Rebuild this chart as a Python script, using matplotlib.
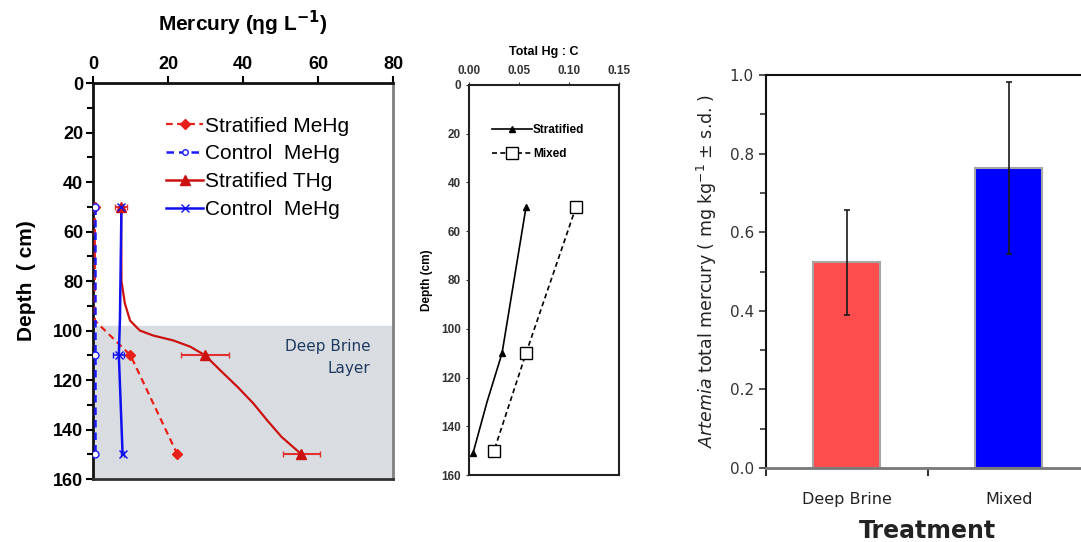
import matplotlib
matplotlib.use("Agg")
import matplotlib.pyplot as plt
from matplotlib.ticker import MultipleLocator

# ---------------- Data ----------------
# Panel A: Mercury (ng/L) vs depth (cm)
strat_mehg_depth = [50, 96, 110, 150]
strat_mehg_val = [0.5, 0.5, 10.0, 22.5]

ctrl_mehg_depth = [50, 110, 150]
ctrl_mehg_val = [0.6, 0.6, 0.6]

# smoothed stratified THg profile
strat_thg_depth = [50, 80, 89, 96, 100, 102, 104, 106.5, 110, 116, 123, 129.5, 136, 143, 150]
strat_thg_val = [7.5, 7.6, 8.5, 9.9, 12.5, 16.0, 21.4, 25.9, 29.9, 33.9, 38.7, 42.8, 46.3, 50.3, 55.6]
strat_thg_pts_depth = [50, 110, 150]
strat_thg_pts_val = [7.5, 29.9, 55.6]
strat_thg_err = [1.5, 6.3, 5.0]

ctrl_thg_depth = [50, 95, 110, 150]
ctrl_thg_val = [7.6, 7.2, 6.9, 7.9]
ctrl_thg_pts_depth = [50, 110, 150]
ctrl_thg_pts_val = [7.6, 6.9, 7.9]
ctrl_thg_err = [0.5, 1.5, 0.5]

brine_top = 98

# Panel B: Total Hg : C ratio vs depth
strat_ratio_depth = [50, 110, 130, 151]
strat_ratio_val = [0.057, 0.033, 0.018, 0.004]
mixed_ratio_depth = [50, 110, 150]
mixed_ratio_val = [0.107, 0.057, 0.025]

# Panel C: Artemia total mercury
treatments = ["Deep Brine", "Mixed"]
artemia_hg = [0.523, 0.763]
artemia_sd = [0.133, 0.218]

# ---------------- Figure ----------------
fig = plt.figure(figsize=(10.81, 5.42), dpi=100)

# ===== Panel A =====
arial = ["Liberation Sans", "DejaVu Sans"]
ax1 = fig.add_axes([0.0860, 0.1162, 0.2775, 0.7306])
ax1.axhspan(brine_top, 160, color="#d9dde2", zorder=0)

ax1.plot(strat_mehg_val, strat_mehg_depth, color="#e8201a", ls=(0, (3, 2)), lw=1.6,
         marker="D", ms=5, markevery=[0, 2, 3], zorder=3)
ax1.plot(ctrl_mehg_val, ctrl_mehg_depth, color="#1a1aff", ls=(0, (3, 2)), lw=1.8,
         marker="o", ms=5, mfc="white", mec="#1a1aff", zorder=4)
ax1.plot(strat_thg_val, strat_thg_depth, color="#cc1111", lw=1.6, zorder=3)
ax1.errorbar(strat_thg_pts_val, strat_thg_pts_depth, xerr=strat_thg_err, fmt="^", color="#cc1111",
             ms=7, ecolor="#e03030", elinewidth=1.5, capsize=2, zorder=3)
ax1.plot(ctrl_thg_val, ctrl_thg_depth, color="#1010ee", lw=1.8, zorder=3)
ax1.errorbar(ctrl_thg_pts_val, ctrl_thg_pts_depth, xerr=ctrl_thg_err, fmt="x", color="#1010ee",
             ms=6, elinewidth=1.2, capsize=2, zorder=3)

# legend proxies
h1 = plt.Line2D([], [], color="#e8201a", ls=(0, (3, 2)), lw=1.6, marker="D", ms=5)
h2 = plt.Line2D([], [], color="#1a1aff", ls=(0, (3, 2)), lw=1.8, marker="o", ms=4, mfc="white")
h3 = plt.Line2D([], [], color="#cc1111", lw=1.8, marker="^", ms=7)
h4 = plt.Line2D([], [], color="#1010ee", lw=1.8, marker="x", ms=6)
ax1.legend([h1, h2, h3, h4], ["Stratified MeHg", "Control  MeHg", "Stratified THg", "Control  MeHg"],
           loc="upper left", bbox_to_anchor=(0.245, 0.915), frameon=False,
           prop={"family": arial, "size": 15}, handlelength=1.75, handletextpad=0.1,
           labelspacing=0.42, borderpad=0, borderaxespad=0)

ax1.set_xlim(0, 80)
ax1.set_ylim(160, 0)
ax1.xaxis.tick_top()
ax1.xaxis.set_label_position("top")
ax1.xaxis.set_major_locator(MultipleLocator(20))
ax1.yaxis.set_major_locator(MultipleLocator(20))
ax1.yaxis.set_minor_locator(MultipleLocator(10))
ax1.tick_params(axis="both", which="major", length=5, width=1.5, labelsize=13, pad=2)
ax1.tick_params(axis="y", which="minor", length=4, width=1.5)
for lab in ax1.get_xticklabels() + ax1.get_yticklabels():
    lab.set_fontfamily(arial)
    lab.set_fontweight("bold")
for sp in ["left", "top", "bottom"]:
    ax1.spines[sp].set_linewidth(2)
    ax1.spines[sp].set_color("#111111")
ax1.spines["bottom"].set_color("#333333")
ax1.spines["right"].set_linewidth(2)
ax1.spines["right"].set_color("#808080")
ax1.set_xlabel("Mercury (ηg L$^{\\mathbf{-1}}$)", family=arial, weight="bold", size=15, labelpad=18)
ax1.set_ylabel("Depth  ( cm)", family=arial, weight="bold", size=15, labelpad=12)
ax1.text(74, 111, "Deep Brine\nLayer", ha="right", va="center", color="#1f3a5f",
         family="DejaVu Sans", size=11, linespacing=1.6)

# ===== Panel B =====
ax2 = fig.add_axes([0.4339, 0.1236, 0.1388, 0.7196])
ax2.plot(strat_ratio_val, strat_ratio_depth, color="black", lw=1.2, marker="^", ms=5,
         markevery=[0, 1, 3], label="Stratified")
ax2.plot(mixed_ratio_val, mixed_ratio_depth, color="black", lw=1.2, ls=(0, (3, 2)),
         marker="s", ms=8, mfc="white", label="Mixed")
ax2.set_xlim(0, 0.15)
ax2.set_ylim(160, 0)
ax2.xaxis.tick_top()
ax2.xaxis.set_label_position("top")
ax2.xaxis.set_major_locator(MultipleLocator(0.05))
ax2.yaxis.set_major_locator(MultipleLocator(20))
ax2.xaxis.set_major_formatter(matplotlib.ticker.FormatStrFormatter("%.2f"))
ax2.tick_params(axis="both", length=2, width=0.8, labelsize=8.5, pad=4, colors="#333333")
for lab in ax2.get_xticklabels() + ax2.get_yticklabels():
    lab.set_fontfamily(arial)
    lab.set_fontweight("bold")
for sp in ax2.spines.values():
    sp.set_linewidth(1.5)
    sp.set_color("#222222")
ax2.set_xlabel("Total Hg : C", family=arial, weight="bold", size=9, labelpad=7)
ax2.set_ylabel("Depth (cm)", family=arial, weight="bold", size=8.5, labelpad=6)
ax2.legend(loc="upper left", bbox_to_anchor=(0.15, 0.90), frameon=False,
           prop={"family": arial, "size": 8.5, "weight": "bold"}, handlelength=3.4,
           handletextpad=0.1, labelspacing=1.0, borderpad=0, borderaxespad=0)

# ===== Panel C =====
ax3 = fig.add_axes([0.7083, 0.1365, 0.2997, 0.7251])
x = range(len(treatments))
ax3.bar(x, artemia_hg, width=0.41, color=["#ff4c4c", "#0000ff"], edgecolor="#a6a6a6", linewidth=1.5,
        zorder=2)
ax3.errorbar(x, artemia_hg, yerr=artemia_sd, fmt="none", ecolor="#1a1a1a", elinewidth=1.2,
             capsize=2, capthick=1.2, zorder=3)
ax3.set_xlim(-0.5, 1.5)
ax3.set_ylim(0, 1.0)
ax3.yaxis.set_major_locator(MultipleLocator(0.2))
ax3.yaxis.set_minor_locator(MultipleLocator(0.1))
ax3.yaxis.set_major_formatter(matplotlib.ticker.FormatStrFormatter("%.1f"))
ax3.set_xticks([-0.5, 0.5], minor=False)
ax3.set_xticklabels(["", ""])
ax3.set_xticks(list(x), minor=True)
ax3.set_xticklabels(treatments, minor=True)
ax3.tick_params(axis="x", which="minor", length=0, labelsize=11.5, pad=17, colors="#222222")
ax3.tick_params(axis="x", which="major", length=6, width=1.5, color="#333333")
ax3.tick_params(axis="y", which="major", length=5, width=1.2, labelsize=11, colors="#333333")
ax3.tick_params(axis="y", which="minor", length=4, width=1.2, color="#333333")
for sp in ["top", "left"]:
    ax3.spines[sp].set_linewidth(1.5)
    ax3.spines[sp].set_color("#111111")
ax3.spines["bottom"].set_linewidth(2)
ax3.spines["bottom"].set_color("#777777")
ax3.spines["right"].set_visible(False)
ax3.set_ylabel("$\\it{Artemia}$ total mercury ( mg kg$^{-1}$ ± s.d. )", size=12.5, color="#222222",
               labelpad=8)
ax3.set_xlabel("Treatment", size=17, weight="bold", color="#222222", labelpad=9)

fig.savefig("out.png", dpi=100)
